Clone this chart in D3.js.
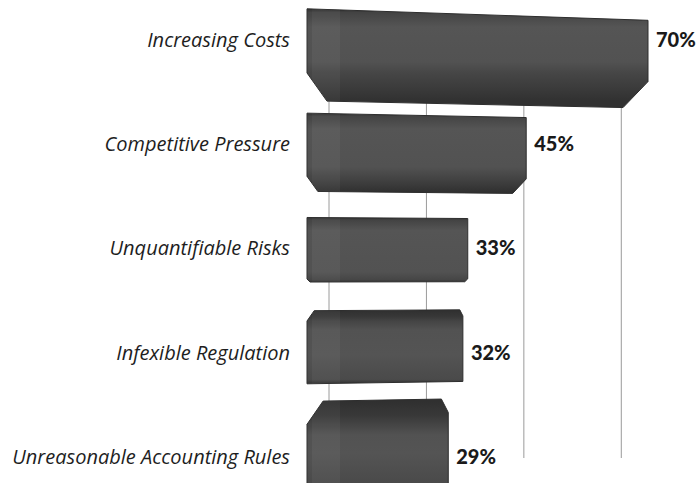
<!DOCTYPE html>
<html>
<head>
<meta charset="utf-8">
<script src="https://cdn.jsdelivr.net/npm/d3@7/dist/d3.min.js"></script>
<style>
  html, body { margin: 0; padding: 0; background: #ffffff; }
  svg { display: block; }
</style>
</head>
<body>
<svg id="chart" width="697" height="483"></svg>
<script>
// Share of respondents naming each obstacle
const categories = [
  "Increasing Costs",
  "Competitive Pressure",
  "Unquantifiable Risks",
  "Infexible Regulation",
  "Unreasonable Accounting Rules"
];
const values = [70, 45, 33, 32, 29];
const gridTicks = [0, 20, 40, 60];

const svg = d3.select("#chart");

// value axis: bars grow rightwards from the left wall
const x = d3.scaleLinear().domain([0, 70]).range([307, 648]);
// one band per category, top to bottom
const y = d3.scaleBand().domain(categories).range([6, 493.5]);

// the chart is seen in slight perspective around an eye line
const eyeY = 268;
const floorShift = 22;          // gridlines sit on the back plane
const persp = (px, py) => [px, eyeY + (py - eyeY) * (1 - 0.00013 * (px - 307))];

function geom(cat) {
  const c = y(cat) + y.bandwidth() / 2;
  const d = c - eyeY;
  const h = 62 + 0.14 * Math.abs(d);
  const cap = 0.13 * Math.abs(d);
  return { c, d, h, cap, top: c - h / 2, bot: c + h / 2 };
}

// bar outline: front face plus the visible cap face toward the eye line
function barPath(cat, v) {
  const g = geom(cat);
  const x0 = x(0), x1 = x(v);
  const r = 3;
  let pts;
  if (g.d < 0) {
    // underside visible: chamfer at the bottom corners
    const lx = Math.max(r, g.cap * 0.72), rx = Math.max(r, g.cap * 0.9), cy = Math.max(r, g.cap);
    pts = [[x0, g.top], [x1, g.top], [x1, g.bot - cy], [x1 - rx, g.bot], [x0 + lx, g.bot], [x0, g.bot - cy]];
  } else {
    // top side visible: chamfer at the top corners
    const lx = Math.max(r, g.cap * 0.7), rx = Math.max(r, g.cap * 0.3), cy = Math.max(r, g.cap);
    pts = [[x0, g.top + cy], [x0 + lx, g.top], [x1 - rx, g.top], [x1, g.top + cy * 0.6], [x1, g.bot], [x0, g.bot]];
  }
  return d3.line()(pts.map(p => persp(p[0], p[1]))) + "Z";
}

const defs = svg.append("defs");

// per-bar shading: the cap face facing the eye line is darker than the front
categories.forEach((cat, i) => {
  const g = geom(cat);
  const f = Math.min(0.35, g.cap / g.h);
  const stops = g.d < 0
    ? [[0, "#2e2e2e"], [0.04, "#434343"], [0.2, "#555555"], [Math.max(0.3, 1 - f - 0.12), "#525252"],
       [1 - f, "#464646"], [1 - f * 0.5, "#3c3c3c"], [1, "#313131"]]
    : [[0, "#303030"], [Math.max(0.03, f * 0.6), "#383838"], [Math.max(0.05, f), "#444444"],
       [Math.max(0.12, f + 0.12), "#525252"], [0.6, "#545454"], [0.94, "#4a4a4a"], [1, "#303030"]];
  const lg = defs.append("linearGradient").attr("id", `barFill${i}`)
    .attr("gradientUnits", "userSpaceOnUse")
    .attr("x1", 0).attr("y1", g.top).attr("x2", 0).attr("y2", g.bot);
  stops.forEach(([o, col]) => lg.append("stop").attr("offset", o).attr("stop-color", col));
  defs.append("clipPath").attr("id", `clip${i}`)
    .append("path").attr("d", barPath(cat, values[i]));
});

// gridlines behind the bars
svg.append("g").selectAll("line").data(gridTicks).join("line")
  .attr("x1", d => x(d) + floorShift).attr("x2", d => x(d) + floorShift)
  .attr("y1", 98).attr("y2", 458)
  .attr("stroke", "#9a9a9a").attr("stroke-width", 1);

const bars = svg.append("g").selectAll("g").data(categories).join("g");
bars.append("path")
  .attr("d", (cat, i) => barPath(cat, values[i]))
  .attr("fill", (cat, i) => `url(#barFill${i})`)
  .attr("stroke", "#2e2e2e").attr("stroke-width", 1).attr("stroke-linejoin", "round");
// slightly lighter rounded end near the wall
bars.append("rect")
  .attr("x", x(0)).attr("y", 0)
  .attr("width", 33).attr("height", 483)
  .attr("fill", "rgba(255,255,255,0.045)")
  .attr("clip-path", (cat, i) => `url(#clip${i})`);
bars.append("rect")
  .attr("x", x(0)).attr("y", 0)
  .attr("width", 5).attr("height", 483)
  .attr("fill", "rgba(0,0,0,0.08)")
  .attr("clip-path", (cat, i) => `url(#clip${i})`);

const labelY = cat => {
  const g = geom(cat);
  return g.c + g.d * 0.07;
};

// category labels
svg.append("g").selectAll("text").data(categories).join("text")
  .attr("x", 290).attr("y", labelY)
  .attr("dy", "0.35em")
  .attr("text-anchor", "end")
  .attr("font-family", "'Open Sans', Lato, sans-serif")
  .attr("font-style", "italic")
  .attr("font-size", 20)
  .attr("fill", "#1e1e1e")
  .text(d => d);

// value labels
svg.append("g").selectAll("text").data(categories).join("text")
  .attr("x", (cat, i) => x(values[i]) + 8).attr("y", labelY)
  .attr("dy", "0.35em")
  .attr("font-family", "Lato, 'Open Sans', sans-serif")
  .attr("font-weight", 900)
  .attr("font-size", 20)
  .attr("fill", "#1a1a1a")
  .text((cat, i) => values[i] + "%");
</script>
</body>
</html>
